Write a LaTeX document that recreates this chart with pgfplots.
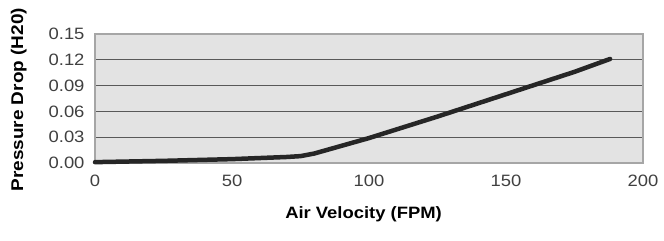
\documentclass[border=0pt]{standalone}
\usepackage{fontspec}
\setmainfont{Liberation Sans}[FakeStretch=1.12]
\usepackage{pgfplots}
\pgfplotsset{compat=1.18}
\begin{document}
\begin{tikzpicture}[x=1bp,y=1bp]
\path[use as bounding box] (0,0) rectangle (664,240);
\begin{axis}[
  at={(95bp,77bp)}, anchor=south west,
  scale only axis, width=548bp, height=129bp,
  xmin=0, xmax=200, ymin=0, ymax=0.15,
  xtick={0,50,100,150,200},
  ytick={0,0.03,0.06,0.09,0.12,0.15},
  major tick length=0pt,
  ymajorgrids,
  grid style={black!65, line width=0.7pt},
  axis line style={gray!70, line width=1.2pt},
  axis background/.style={fill=gray!22},
  /pgf/number format/assume math mode=true,
  yticklabel style={/pgf/number format/.cd, fixed, fixed zerofill, precision=2},
  xticklabel style={/pgf/number format/.cd, fixed},
  ticklabel style={font=\fontsize{16.5}{16.5}\selectfont, text=black!75},
  xticklabel shift=8bp,
  yticklabel shift=7bp,
  clip=false,
]
\addplot[black!85, line width=4.5bp, line join=round, line cap=round] coordinates {
  (0,0.001) (25,0.0025) (50,0.0045) (70,0.007) (75,0.008) (80,0.011) (90,0.020) (100,0.029) (125,0.054) (150,0.080) (175,0.106) (188,0.121)
};
\node[rotate=90, font=\bfseries\fontsize{17}{17}\selectfont] at (axis description cs:-0.139,0.49) {Pressure Drop (H20)};
\node[font=\bfseries\fontsize{16.5}{16.5}\selectfont] at (axis description cs:0.49,-0.395) {Air Velocity (FPM)};
\end{axis}
\end{tikzpicture}
\end{document}
